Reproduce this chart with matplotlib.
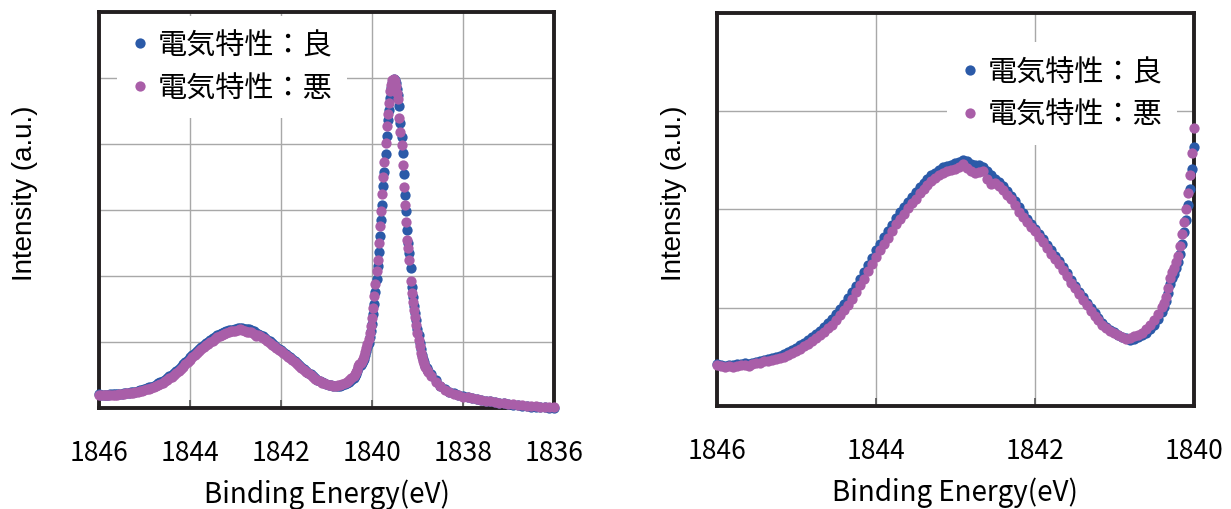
import numpy as np
import matplotlib
matplotlib.use("Agg")
import matplotlib.pyplot as plt

plt.rcParams['font.family'] = ['Noto Sans CJK JP', 'DejaVu Sans']

# series labels
label_good = "電気特性：良"
label_bad = "電気特性：悪"

# binding energy grid (eV), three measured segments
energy_smooth = np.linspace(1846.0, 1840.4, 113)
energy_peak = np.linspace(1840.375, 1838.775, 65)
energy_tail = np.linspace(1838.7, 1836.0, 28)

# 電気特性:悪 (purple) intensities, a.u.
bad_smooth = [
    0.200, 0.195, 0.192, 0.196, 0.190, 0.198, 0.200, 0.203, 0.199, 0.206,
    0.210, 0.214, 0.220, 0.224, 0.226, 0.232, 0.236, 0.244, 0.252, 0.263,
    0.272, 0.282, 0.294, 0.308, 0.321, 0.334, 0.350, 0.366, 0.384, 0.402,
    0.425, 0.450, 0.474, 0.500, 0.530, 0.562, 0.595, 0.628, 0.664, 0.700,
    0.735, 0.770, 0.800, 0.830, 0.862, 0.898, 0.925, 0.948, 0.975, 1.000,
    1.022, 1.050, 1.072, 1.090, 1.110, 1.125, 1.138, 1.150, 1.160, 1.165,
    1.172, 1.180, 1.193, 1.175, 1.160, 1.150, 1.155, 1.158, 1.120, 1.095,
    1.100, 1.088, 1.065, 1.040, 1.020, 0.992, 0.960, 0.935, 0.910, 0.885,
    0.862, 0.835, 0.808, 0.780, 0.752, 0.728, 0.700, 0.672, 0.640, 0.608,
    0.580, 0.552, 0.525, 0.498, 0.470, 0.446, 0.422, 0.402, 0.385, 0.372,
    0.360, 0.350, 0.342, 0.332, 0.335, 0.345, 0.352, 0.362, 0.378, 0.398,
    0.425, 0.455, 0.490,
]
bad_peak = [
    0.51, 0.54, 0.58, 0.63, 0.66, 0.68, 0.71, 0.74, 0.79, 0.85,
    0.91, 0.97, 1.05, 1.14, 1.25, 1.37, 1.52, 1.70, 1.88, 2.08,
    2.25, 2.50, 2.76, 2.98, 3.25, 3.50, 3.72, 4.02, 4.28, 4.45,
    4.62, 4.80, 4.90, 4.97, 4.99, 4.95, 4.88, 4.78, 4.68, 4.40,
    4.18, 3.98, 3.68, 3.35, 3.08, 2.82, 2.55, 2.42, 2.25, 1.92,
    1.74, 1.60, 1.48, 1.38, 1.26, 1.14, 1.03, 0.94, 0.84, 0.77,
    0.71, 0.66, 0.62, 0.58, 0.55,
]
bad_tail = [
    0.49, 0.40, 0.33, 0.28, 0.24, 0.21, 0.19, 0.17, 0.16, 0.15,
    0.14, 0.12, 0.11, 0.10, 0.09, 0.08, 0.07, 0.06, 0.055, 0.05,
    0.04, 0.035, 0.03, 0.025, 0.02, 0.015, 0.01, 0.01,
]

# 電気特性:良 (blue) intensities, a.u.
good_smooth = [
    0.205, 0.200, 0.198, 0.203, 0.200, 0.205, 0.207, 0.210, 0.208, 0.214,
    0.218, 0.222, 0.228, 0.232, 0.236, 0.242, 0.248, 0.256, 0.266, 0.278,
    0.288, 0.300, 0.312, 0.326, 0.340, 0.354, 0.372, 0.390, 0.410, 0.430,
    0.452, 0.478, 0.505, 0.532, 0.562, 0.594, 0.628, 0.662, 0.698, 0.732,
    0.768, 0.802, 0.834, 0.865, 0.895, 0.928, 0.956, 0.980, 1.005, 1.030,
    1.055, 1.080, 1.100, 1.120, 1.138, 1.152, 1.165, 1.178, 1.185, 1.188,
    1.200, 1.205, 1.215, 1.208, 1.195, 1.190, 1.192, 1.180, 1.160, 1.140,
    1.120, 1.105, 1.085, 1.060, 1.038, 1.010, 0.980, 0.952, 0.925, 0.900,
    0.876, 0.850, 0.822, 0.795, 0.768, 0.742, 0.715, 0.686, 0.655, 0.622,
    0.592, 0.565, 0.538, 0.510, 0.482, 0.457, 0.432, 0.410, 0.392, 0.377,
    0.364, 0.352, 0.342, 0.334, 0.328, 0.332, 0.340, 0.350, 0.362, 0.378,
    0.400, 0.430, 0.462,
]
good_peak = [
    0.49, 0.52, 0.56, 0.60, 0.63, 0.65, 0.68, 0.71, 0.75, 0.80,
    0.86, 0.92, 0.99, 1.07, 1.17, 1.28, 1.42, 1.58, 1.76, 1.96,
    2.15, 2.36, 2.60, 2.85, 3.08, 3.36, 3.58, 3.85, 4.12, 4.36,
    4.52, 4.70, 4.85, 4.92, 4.98, 4.97, 4.92, 4.84, 4.74, 4.58,
    4.32, 4.10, 3.86, 3.55, 3.22, 2.98, 2.70, 2.50, 2.35, 2.12,
    1.84, 1.68, 1.55, 1.44, 1.33, 1.20, 1.10, 0.99, 0.90, 0.81,
    0.74, 0.69, 0.64, 0.60, 0.56,
]
good_tail = [
    0.51, 0.42, 0.34, 0.29, 0.25, 0.22, 0.195, 0.175, 0.16, 0.15,
    0.135, 0.125, 0.11, 0.10, 0.09, 0.08, 0.07, 0.06, 0.05, 0.045,
    0.035, 0.03, 0.02, 0.02, 0.015, 0.01, 0.005, 0.0,
]

energy = np.concatenate([energy_smooth, energy_peak, energy_tail])
good = np.concatenate([good_smooth, good_peak, good_tail])
bad = np.concatenate([bad_smooth, bad_peak, bad_tail])

col_good = "#2b5aa8"
col_bad = "#a95ea8"
grid_col = "#a8a8a8"
spine_col = "#231f20"
msize = 7.4

fig = plt.figure(figsize=(12.31, 5.10), dpi=100)
ax1 = fig.add_axes([0.0804, 0.198, 0.3696, 0.7765])
ax2 = fig.add_axes([0.5822, 0.202, 0.3877, 0.7706])


def style_axes(ax, xlim, xticks, ylim, yticks):
    ax.set_xlim(*xlim)
    ax.set_ylim(*ylim)
    ax.set_xticks(xticks)
    ax.set_xticklabels([str(t) for t in xticks])
    ax.set_yticks(yticks)
    ax.set_yticklabels([])
    ax.grid(True, color=grid_col, linewidth=1.0)
    ax.set_axisbelow(True)
    for s in ax.spines.values():
        s.set_linewidth(2.8)
        s.set_color(spine_col)
    ax.tick_params(axis='x', direction='in', length=6, width=1.2,
                   color='#555555', labelsize=19, pad=22)
    ax.tick_params(axis='y', direction='in', length=0)
    ax.set_xlabel("Binding Energy(eV)", fontsize=20, labelpad=9)
    ax.set_ylabel("Intensity (a.u.)", fontsize=20,
                  family=['Liberation Sans', 'DejaVu Sans'])


def add_legend(ax, anchor):
    ax.legend(loc='upper left', bbox_to_anchor=anchor,
              borderaxespad=0, borderpad=0.5, handlelength=0.6,
              handletextpad=0.3, labelspacing=0.45, fontsize=21,
              frameon=True, fancybox=False, framealpha=1,
              edgecolor='none', facecolor='white')


# left: full range
style_axes(ax1, (1846, 1836), [1846, 1844, 1842, 1840, 1838, 1836],
           (0, 6), [1, 2, 3, 4, 5])
ax1.plot(energy, good, 'o', ms=msize, mec='none', color=col_good,
         label=label_good, clip_on=False, zorder=3)
ax1.plot(energy, bad, 'o', ms=msize, mec='none', color=col_bad,
         label=label_bad, clip_on=False, zorder=3)
ax1.yaxis.set_label_coords(-0.135, 0.545)
add_legend(ax1, (0.039, 0.99))

# right: zoom on the broad peak
top2 = 1.94
sel = energy >= 1840.0
style_axes(ax2, (1846, 1840), [1846, 1844, 1842, 1840],
           (0, top2), [top2 / 4, top2 / 2, top2 * 3 / 4])
ax2.plot(energy[sel], good[sel], 'o', ms=msize, mec='none', color=col_good,
         label=label_good, clip_on=False, zorder=3)
ax2.plot(energy[sel], bad[sel], 'o', ms=msize, mec='none', color=col_bad,
         label=label_bad, clip_on=False, zorder=3)
ax2.yaxis.set_label_coords(-0.062, 0.545)
add_legend(ax2, (0.482, 0.925))

fig.savefig("out.png", dpi=100)
